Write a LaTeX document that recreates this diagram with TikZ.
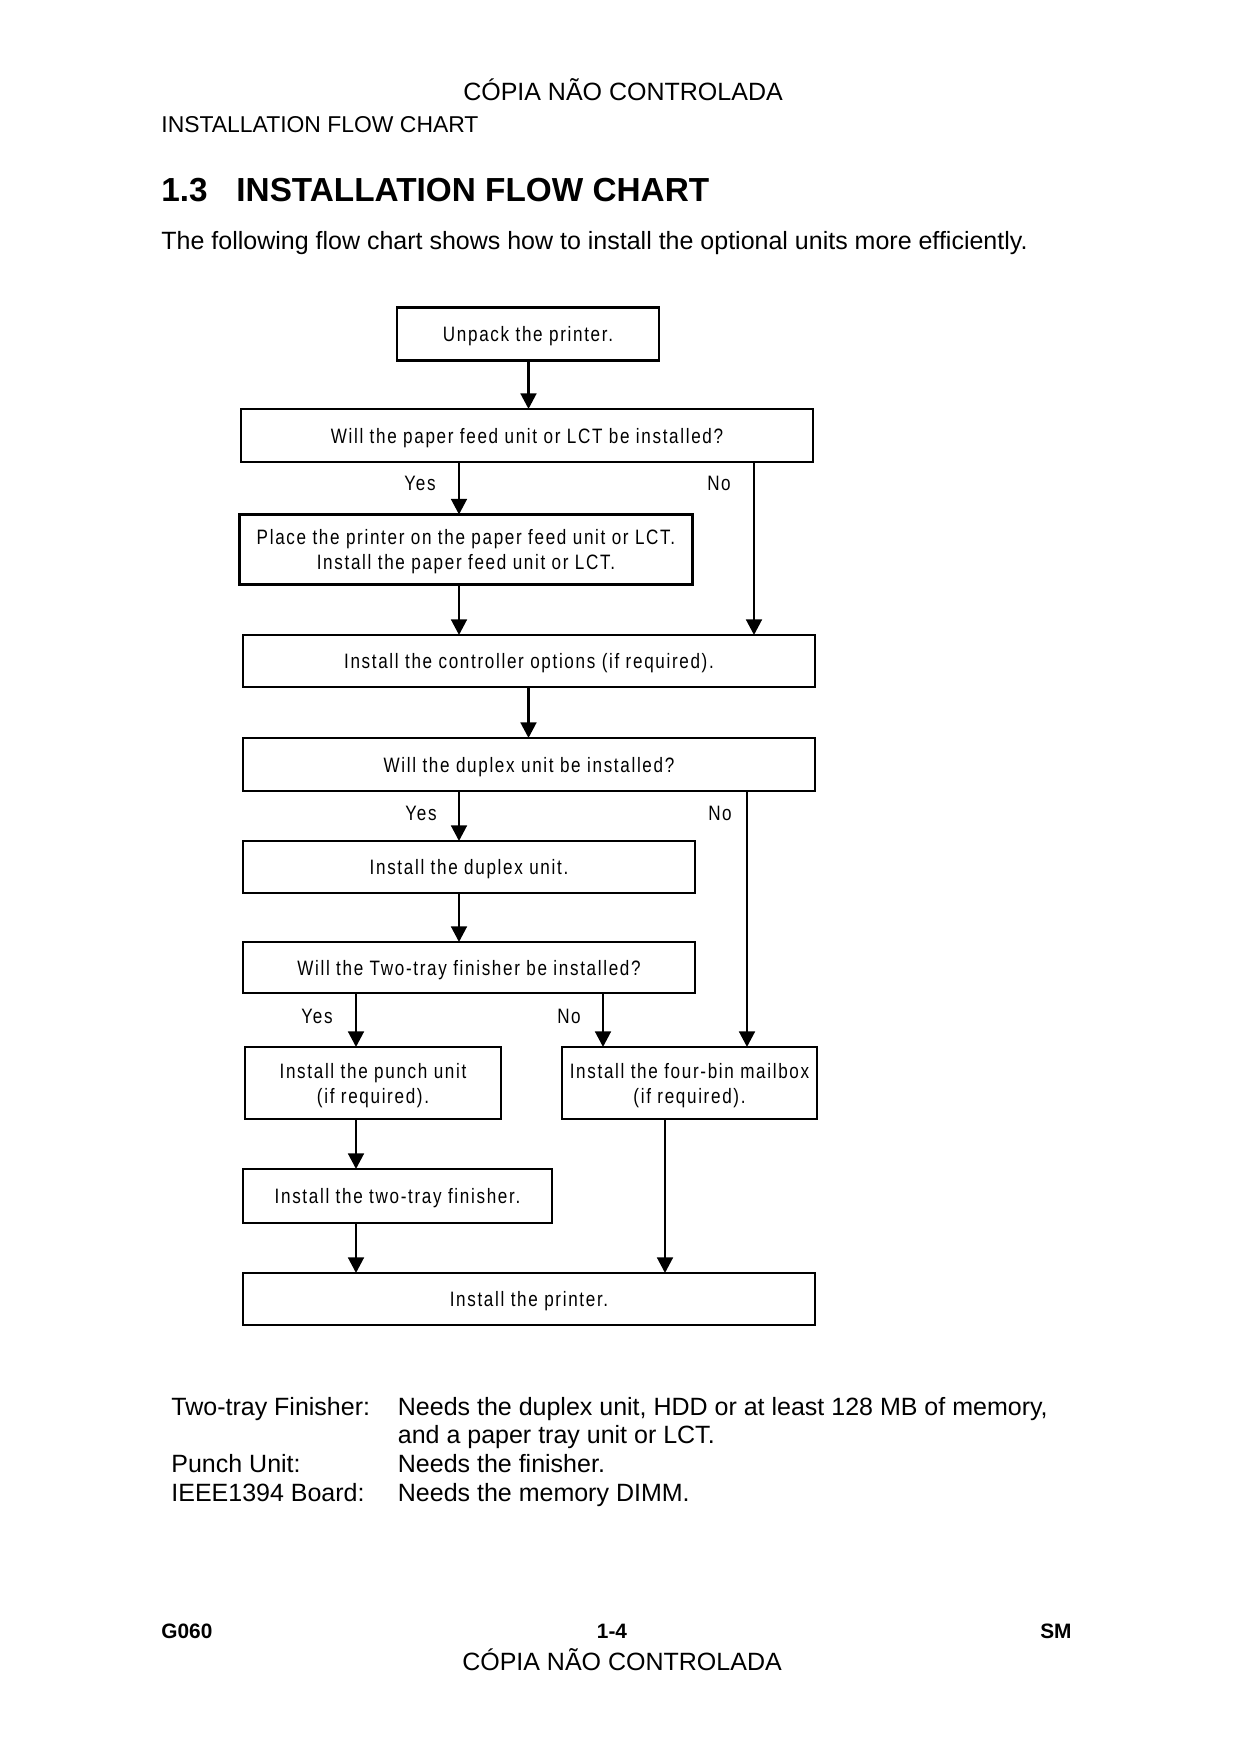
\documentclass[tikz,border=0pt]{standalone}
\usepackage{fontspec}
\setmainfont{Liberation Sans}
\newfontfamily\boxfont[FakeStretch=0.82,LetterSpace=8]{Liberation Sans}
\usetikzlibrary{arrows.meta}
\begin{document}
\begin{tikzpicture}[x=0.48pt,y=-0.48pt,
  box/.style={draw,line width=1.4pt,rectangle,inner sep=0pt,outer sep=0pt,align=center,text depth=0pt,
    font=\boxfont\fontsize{10}{12}\selectfont},
  arr/.style={line width=1.4pt,-{Triangle[length=7.5pt,width=7.5pt]}},
  lbl/.style={inner sep=0pt,anchor=base,font=\boxfont\fontsize{10}{12}\selectfont},
  txt/.style={inner sep=0pt,anchor=base west,font=\fontsize{12}{14}\selectfont},
  foot/.style={inner sep=0pt,font=\bfseries\fontsize{10}{12}\selectfont}]
\useasboundingbox (0,0) rectangle (1240,1754);
% header
\node[inner sep=0pt,anchor=base,font=\fontsize{12}{14}\selectfont] (hdr) at (623,100) {CÓPIA NÃO CONTROLADA};
\node[inner sep=0pt,anchor=base west,font=\fontsize{11}{13}\selectfont] (sec) at (161,132) {INSTALLATION FLOW CHART};
\node[inner sep=0pt,anchor=base west,font=\bfseries\fontsize{16}{19}\selectfont] (hnum) at (161,201) {1.3};
\node[inner sep=0pt,anchor=base west,font=\bfseries\fontsize{16}{19}\selectfont] (htitle) at (236,201) {INSTALLATION FLOW CHART};
\node[txt] (intro) at (161,249) {The following flow chart shows how to install the optional units more efficiently.};
% boxes
\node[box,minimum width=262*0.48pt,minimum height=53*0.48pt] (unpack) at (528,334) {Unpack the printer.};
\node[box,minimum width=572*0.48pt,minimum height=53*0.48pt] (q1) at (527,435.5) {Will the paper feed unit or LCT be installed?};
\node[box,minimum width=453*0.48pt,minimum height=70*0.48pt] (place) at (466,549.5) {Place the printer on the paper feed unit or LCT.\\Install the paper feed unit or LCT.};
\node[box,minimum width=572*0.48pt,minimum height=52*0.48pt] (ctrl) at (529,661) {Install the controller options (if required).};
\node[box,minimum width=572*0.48pt,minimum height=53*0.48pt] (q2) at (529,764.5) {Will the duplex unit be installed?};
\node[box,minimum width=452*0.48pt,minimum height=52*0.48pt] (duplex) at (469,867) {Install the duplex unit.};
\node[box,minimum width=452*0.48pt,minimum height=51*0.48pt] (q3) at (469,967.5) {Will the Two-tray finisher be installed?};
\node[box,minimum width=256*0.48pt,minimum height=72*0.48pt] (punch) at (373,1083) {Install the punch unit\\(if required).};
\node[box,minimum width=255*0.48pt,minimum height=72*0.48pt] (mail) at (689.5,1083) {Install the four-bin mailbox\\(if required).};
\node[box,minimum width=309*0.48pt,minimum height=54*0.48pt] (twotray) at (397.5,1196) {Install the two-tray finisher.};
\node[box,minimum width=572*0.48pt,minimum height=52*0.48pt] (printer) at (529,1299) {Install the printer.};
% arrow columns
\coordinate (xa) at (528.5,0);
\coordinate (xb) at (459,0);
\coordinate (xc) at (754,0);
\coordinate (xd) at (747,0);
\coordinate (xe) at (356,0);
\coordinate (xf) at (603,0);
\coordinate (xg) at (665,0);
\draw[arr] (unpack.south -| xa) -- (q1.north -| xa);
\draw[arr] (q1.south -| xb) -- (place.north -| xb);
\draw[arr] (q1.south -| xc) -- (ctrl.north -| xc);
\draw[arr] (place.south -| xb) -- (ctrl.north -| xb);
\draw[arr] (ctrl.south -| xa) -- (q2.north -| xa);
\draw[arr] (q2.south -| xb) -- (duplex.north -| xb);
\draw[arr] (q2.south -| xd) -- (mail.north -| xd);
\draw[arr] (duplex.south -| xb) -- (q3.north -| xb);
\draw[arr] (q3.south -| xe) -- (punch.north -| xe);
\draw[arr] (q3.south -| xf) -- (mail.north -| xf);
\draw[arr] (punch.south -| xe) -- (twotray.north -| xe);
\draw[arr] (twotray.south -| xe) -- (printer.north -| xe);
\draw[arr] (mail.south -| xg) -- (printer.north -| xg);
% labels
\node[lbl] (y1) at (420,490) {Yes};
\node[lbl] (n1) at (719,490) {No};
\node[lbl] (y2) at (421,820) {Yes};
\node[lbl] (n2) at (720,820) {No};
\node[lbl] (y3) at (317,1023) {Yes};
\node[lbl] (n3) at (569,1023) {No};
% notes
\node[txt] (k1) at (171,1415) {Two-tray Finisher:};
\node[txt] (v1) at (397.5,1415) {Needs the duplex unit, HDD or at least 128 MB of memory,};
\node[txt] (v1b) at (397.5,1443.5) {and a paper tray unit or LCT.};
\node[txt] (k2) at (171,1472) {Punch Unit:};
\node[txt] (v2) at (397.5,1472) {Needs the finisher.};
\node[txt] (k3) at (171,1501) {IEEE1394 Board:};
\node[txt] (v3) at (397.5,1501) {Needs the memory DIMM.};
% footer
\node[foot,anchor=base west] (fl) at (161,1638) {G060};
\node[foot,anchor=base] (fc) at (612,1638) {1-4};
\node[foot,anchor=base east] (fr) at (1072,1638) {SM};
\node[inner sep=0pt,anchor=base,font=\fontsize{12}{14}\selectfont] (ftr) at (622,1670) {CÓPIA NÃO CONTROLADA};
\end{tikzpicture}
\end{document}
